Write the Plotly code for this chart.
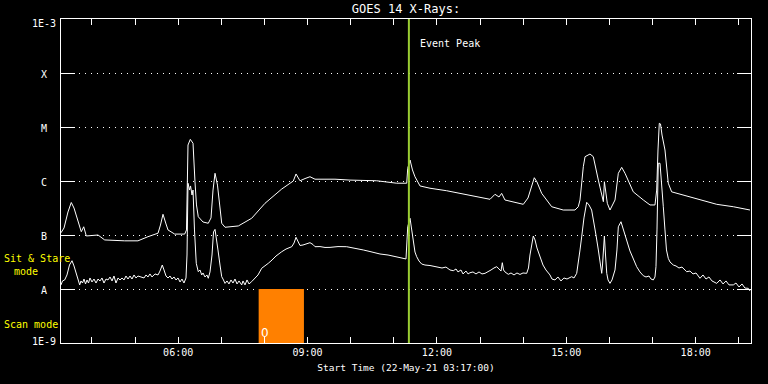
import math
import plotly.graph_objects as go
from datetime import datetime, timedelta

# ---------------- data ----------------
start_time = datetime(2021, 5, 22, 3, 17)
span_hours = 16

# GOES 14 long channel (upper curve): minutes after start, flux W/m^2
long_minutes = [0, 4.2, 9.7, 14.3, 18.1, 23.7, 28.2, 31.6, 35.2, 51.5, 60.8, 88.6, 107.1, 121.0,
                135.0, 138.4, 141.9, 146.1, 148.9, 158.2, 172.1, 174.6, 176.7, 179.9, 183.7, 186.4,
                188.5, 191.0, 197.6, 204.9, 208.7, 211.5, 214.3, 217.7, 223.6, 228.2, 246.7, 265.3,
                283.8, 307.1, 323.2, 327.0, 332.5, 339.5, 346.4, 353.4, 381.2, 402.1, 439.2, 467.1,
                481.0, 482.4, 485.6, 489.0, 492.5, 499.5, 513.4, 536.6, 569.0, 596.9, 603.8, 609.4,
                613.1, 617.7, 643.2, 649.7, 658.5, 662.2, 668.8, 682.7, 698.8, 715.1, 719.7, 722.1,
                726.7, 729.1, 736.0, 740.6, 747.6, 752.1, 754.6, 756.0, 757.6, 760.1, 763.8, 770.8,
                775.4, 780.1, 784.7, 796.2, 810.2, 819.5, 826.4, 828.8, 830.6, 832.4, 834.1, 836.2,
                840.3, 844.9, 849.6, 870.5, 889.0, 912.3, 935.4, 958.6]
long_flux = [1.1e-7, 1.35e-7, 2.67e-7, 4.0e-7, 3.16e-7, 1.9e-7, 1.15e-7, 1.42e-7, 9.6e-8, 1.0e-7,
             8.1e-8, 7.8e-8, 7.8e-8, 9.3e-8, 1.08e-7, 1.53e-7, 2.42e-7, 1.6e-7, 1.24e-7, 1.04e-7,
             1.04e-7, 1.24e-7, 4.64e-6, 5.9e-6, 5.0e-6, 9.7e-7, 3.6e-7, 2.18e-7, 1.74e-7, 1.65e-7,
             2.07e-7, 6.8e-7, 1.39e-6, 8.4e-7, 1.65e-7, 1.39e-7, 1.47e-7, 2.04e-7, 3.86e-7, 7.1e-7,
             1.0e-6, 1.35e-6, 1.01e-6, 1.11e-6, 1.2e-6, 1.08e-6, 1.08e-6, 1.04e-6, 1.01e-6, 9.1e-7,
             9.1e-7, 1.72e-6, 2.45e-6, 1.6e-6, 1.2e-6, 8.1e-7, 7.35e-7, 6.6e-7, 5.44e-7, 4.58e-7,
             5.67e-7, 5.06e-7, 5.9e-7, 4.45e-7, 3.7e-7, 4.84e-7, 1.15e-6, 9.6e-7, 5.9e-7, 3.34e-7,
             2.9e-7, 2.9e-7, 3.34e-7, 4.45e-7, 1.84e-6, 2.82e-6, 3.16e-6, 2.82e-6, 1.04e-6, 5.5e-7,
             4.14e-7, 9.7e-7, 6.8e-7, 3.86e-7, 2.9e-7, 4.45e-7, 1.39e-6, 1.79e-6, 1.39e-6, 6.3e-7,
             4.45e-7, 3.6e-7, 3.6e-7, 6.8e-7, 3.75e-6, 1.17e-5, 1.14e-5, 7.1e-6, 3.75e-6, 9.1e-7,
             6.3e-7, 5.28e-7, 4.45e-7, 3.7e-7, 3.34e-7, 2.9e-7]

# GOES 14 short channel (lower curve): minutes after start, flux W/m^2
short_minutes = [0, 2.1, 5.1, 8.3, 11.8, 15.3, 18.1, 21.3, 23.7, 26.0, 27.8, 29.9, 32.0, 34.1, 36.2,
                 38.3, 40.3, 43.1, 45.9, 48.7, 51.5, 54.3, 57.0, 59.8, 62.6, 65.4, 68.2, 71.0, 73.7,
                 76.5, 79.3, 82.1, 84.9, 87.7, 90.4, 93.2, 96.0, 98.8, 101.6, 104.3, 107.1, 111.3,
                 115.5, 118.3, 121.0, 123.8, 126.6, 130.8, 135.0, 137.7, 140.9, 143.3, 146.1, 148.9,
                 151.7, 154.4, 157.2, 160.0, 162.8, 165.6, 168.3, 171.1, 173.9, 175.3, 176.7, 178.8,
                 180.2, 182.3, 183.7, 185.7, 188.2, 191.0, 193.4, 195.8, 197.6, 200.3, 203.1, 204.9,
                 207.3, 210.1, 212.2, 214.3, 216.4, 218.4, 221.2, 223.6, 225.4, 228.2, 231.0, 233.7,
                 236.5, 239.3, 242.1, 244.9, 247.7, 251.4, 253.2, 256.0, 258.8, 261.6, 265.3, 268.5,
                 271.3, 274.1, 279.2, 283.8, 288.4, 293.6, 299.1, 307.1, 313.1, 321.0, 324.2, 327.0,
                 329.7, 332.5, 336.7, 340.9, 346.4, 350.6, 353.4, 360.3, 367.3, 374.3, 385.4, 397.5,
                 409.1, 420.6, 429.9, 443.8, 455.0, 467.1, 474.4, 480.0, 481.4, 482.4, 485.6, 487.7,
                 490.2, 492.5, 494.9, 498.1, 501.8, 506.4, 513.4, 522.7, 530.1, 535.6, 541.2, 545.8,
                 549.6, 552.3, 556.5, 559.3, 563.5, 566.3, 569.0, 573.2, 577.4, 581.6, 585.7, 589.9,
                 594.1, 598.3, 602.4, 606.2, 609.4, 612.2, 614.0, 615.7, 617.7, 622.3, 626.1, 630.3,
                 634.4, 638.6, 642.8, 647.9, 650.4, 652.5, 657.1, 659.5, 662.2, 666.4, 670.6, 674.7,
                 680.3, 683.1, 687.3, 691.4, 695.6, 699.8, 704.0, 710.5, 713.7, 717.5, 720.0, 722.1,
                 724.4, 727.6, 731.4, 734.6, 738.3, 741.5, 744.3, 747.6, 749.9, 752.3, 753.4, 754.6,
                 756.0, 757.6, 759.3, 761.1, 763.8, 766.6, 770.8, 773.5, 775.4, 779.1, 781.9, 787.0,
                 791.6, 795.8, 800.9, 805.5, 810.2, 813.9, 818.1, 820.9, 824.1, 826.4, 827.8, 829.2,
                 831.0, 833.4, 834.8, 836.2, 838.0, 840.3, 842.4, 844.9, 847.3, 851.9, 855.7, 859.8,
                 864.0, 870.5, 875.1, 879.3, 883.5, 889.0, 893.2, 897.4, 901.5, 905.7, 912.3, 916.9,
                 921.1, 925.2, 929.4, 935.4, 939.1, 943.3, 947.5, 951.6, 956.2, 958.6]
short_flux = [1.19e-8, 1.41e-8, 1.47e-8, 1.82e-8, 2.78e-8, 3.34e-8, 2.67e-8, 1.95e-8, 1.47e-8, 1.19e-8,
              1.41e-8, 1.29e-8, 1.53e-8, 1.24e-8, 1.47e-8, 1.29e-8, 1.6e-8, 1.35e-8, 1.53e-8, 1.29e-8,
              1.53e-8, 1.41e-8, 1.6e-8, 1.29e-8, 1.53e-8, 1.47e-8, 1.67e-8, 1.41e-8, 1.74e-8, 1.29e-8,
              1.6e-8, 1.47e-8, 1.6e-8, 1.47e-8, 1.74e-8, 1.53e-8, 1.74e-8, 1.53e-8, 1.82e-8, 1.6e-8,
              1.74e-8, 1.67e-8, 1.6e-8, 1.82e-8, 1.67e-8, 1.9e-8, 1.67e-8, 1.9e-8, 1.82e-8, 2.15e-8,
              2.78e-8, 2.25e-8, 1.74e-8, 1.6e-8, 1.74e-8, 1.53e-8, 1.67e-8, 1.47e-8, 1.6e-8, 1.35e-8,
              1.53e-8, 1.29e-8, 1.6e-8, 4.26e-8, 9.1e-7, 6.8e-7, 8.1e-7, 5.5e-7, 6.8e-7, 1.24e-7,
              2.99e-8, 2.09e-8, 2.25e-8, 1.82e-8, 1.98e-8, 1.67e-8, 1.82e-8, 1.58e-8, 2.07e-8, 4.26e-8,
              1.14e-7, 1.27e-7, 8.8e-8, 5.28e-8, 2.78e-8, 1.69e-8, 1.53e-8, 1.27e-8, 1.41e-8, 1.24e-8,
              1.47e-8, 1.29e-8, 1.53e-8, 1.24e-8, 1.41e-8, 1.19e-8, 1.41e-8, 1.19e-8, 1.47e-8, 1.24e-8,
              1.37e-8, 1.53e-8, 1.67e-8, 1.82e-8, 2.42e-8, 2.67e-8, 2.99e-8, 3.44e-8, 4.08e-8, 4.9e-8,
              5.5e-8, 6.07e-8, 7.1e-8, 9.06e-8, 7.42e-8, 6.4e-8, 6.53e-8, 6.81e-8, 7.2e-8, 6.67e-8,
              6.07e-8, 6.1e-8, 5.88e-8, 5.9e-8, 6.1e-8, 6.07e-8, 5.75e-8, 5.28e-8, 4.94e-8, 4.45e-8,
              4.26e-8, 3.96e-8, 3.75e-8, 3.6e-8, 8.1e-8, 1.42e-7, 2.04e-7, 1.24e-7, 7.0e-8, 4.84e-8,
              3.96e-8, 3.3e-8, 2.9e-8, 2.78e-8, 2.72e-8, 2.59e-8, 2.45e-8, 2.55e-8, 2.25e-8, 2.18e-8,
              2.35e-8, 2.07e-8, 2.25e-8, 1.9e-8, 2.15e-8, 1.9e-8, 2.0e-8, 2.07e-8, 1.9e-8, 2.07e-8,
              1.9e-8, 1.95e-8, 2.07e-8, 2.25e-8, 2.45e-8, 2.59e-8, 2.35e-8, 2.15e-8, 3.07e-8, 2.25e-8,
              2.07e-8, 1.87e-8, 1.98e-8, 1.82e-8, 1.98e-8, 1.86e-8, 1.98e-8, 1.95e-8, 2.45e-8, 4.26e-8,
              9.58e-8, 8.1e-8, 5.75e-8, 3.96e-8, 2.78e-8, 2.25e-8, 1.82e-8, 1.53e-8, 1.47e-8, 1.67e-8,
              1.41e-8, 1.6e-8, 1.53e-8, 1.69e-8, 1.6e-8, 1.95e-8, 3.16e-8, 5.28e-8, 9.2e-8, 2.07e-7,
              4.03e-7, 3.6e-7, 2.9e-7, 1.74e-7, 1.0e-7, 5.28e-8, 3.16e-8, 1.95e-8, 2.78e-8, 5.28e-8,
              9.58e-8, 4.26e-8, 1.95e-8, 1.47e-8, 1.27e-8, 1.47e-8, 2.25e-8, 5.28e-8, 1.42e-7, 1.76e-7,
              1.35e-7, 7.5e-8, 5.06e-8, 3.75e-8, 2.59e-8, 2.07e-8, 1.76e-8, 1.67e-8, 1.74e-8, 1.53e-8,
              1.47e-8, 1.67e-8, 2.59e-8, 1.24e-7, 2.13e-6, 2.13e-6, 1.29e-6, 8.4e-7, 3.34e-7, 1.24e-7,
              5.28e-8, 3.7e-8, 3.16e-8, 2.78e-8, 2.67e-8, 2.45e-8, 2.55e-8, 2.09e-8, 2.15e-8, 1.9e-8,
              1.98e-8, 1.58e-8, 1.82e-8, 1.53e-8, 1.67e-8, 1.41e-8, 1.27e-8, 1.47e-8, 1.24e-8, 1.41e-8,
              1.19e-8, 1.19e-8, 1.29e-8, 1.09e-8, 1.24e-8, 1.04e-8, 1.03e-8, 9.2e-9]

event_peak_time = datetime(2021, 5, 22, 11, 21)
scan_start_time = datetime(2021, 5, 22, 7, 52)
scan_end_time = datetime(2021, 5, 22, 8, 55)
scan_mode_flux = [1e-9, 1e-8]

level_values = [1e-9, 1e-8, 1e-7, 1e-6, 1e-5, 1e-4, 1e-3]
level_labels = ["1E-9", "A", "B", "C", "M", "X", "1E-3"]

hour_ticks = [datetime(2021, 5, 22, h) for h in range(4, 20)]
hour_labels = ["", "", "06:00", "", "", "09:00", "", "", "12:00", "", "", "15:00", "", "", "18:00", ""]

title_text = "GOES 14 X-Rays:"
xlabel_text = "Start Time (22-May-21 03:17:00)"

# ---------------- figure ----------------
FONT = "DejaVu Sans Mono"
WHITE = "#ffffff"
YELLOW = "#ffff00"

long_t = [start_time + timedelta(minutes=m) for m in long_minutes]
short_t = [start_time + timedelta(minutes=m) for m in short_minutes]
end_time = start_time + timedelta(hours=span_hours)

fig = go.Figure()

# scan mode block
fig.add_trace(go.Scatter(
    x=[scan_start_time, scan_start_time, scan_end_time, scan_end_time],
    y=[scan_mode_flux[0], scan_mode_flux[1], scan_mode_flux[1], scan_mode_flux[0]],
    fill="toself", fillcolor="#ff8000", line=dict(width=0, color="#ff8000"),
    mode="lines", hoverinfo="skip", showlegend=False))

fig.add_trace(go.Scatter(x=long_t, y=long_flux, mode="lines",
                         line=dict(color=WHITE, width=1), showlegend=False))
fig.add_trace(go.Scatter(x=short_t, y=short_flux, mode="lines",
                         line=dict(color=WHITE, width=1), showlegend=False))

# event peak line
fig.add_trace(go.Scatter(x=[event_peak_time, event_peak_time], y=[level_values[0], level_values[-1]],
                         mode="lines", line=dict(color="#9acd32", width=2), showlegend=False))

annotations = []
# y level labels (centered)
for v, lab in zip(level_values, level_labels):
    ys = -1
    if lab == "1E-3":
        ys = -4
    elif lab == "1E-9":
        ys = 2
    annotations.append(dict(x=(44 - 61) / 690, xref="paper", y=math.log10(v), yref="y",
                            text=lab, showarrow=False, xanchor="center", yanchor="middle",
                            yshift=ys, font=dict(family=FONT, size=10, color=WHITE)))

annotations.append(dict(x=event_peak_time, xref="x", y=0.925, yref="paper", text="Event Peak",
                        showarrow=False, xanchor="left", yanchor="middle", xshift=9,
                        font=dict(family=FONT, size=10, color=WHITE)))
annotations.append(dict(x=(2 - 61) / 690, xref="paper", y=(343 - 258) / 324, yref="paper",
                        text="Sit & Stare", showarrow=False, xanchor="left", yanchor="middle",
                        font=dict(family=FONT, size=10, color=YELLOW)))
annotations.append(dict(x=(12 - 61) / 690, xref="paper", y=(343 - 271) / 324, yref="paper",
                        text="mode", showarrow=False, xanchor="left", yanchor="middle",
                        font=dict(family=FONT, size=10, color=YELLOW)))
annotations.append(dict(x=(2 - 61) / 690, xref="paper", y=(343 - 324) / 324, yref="paper",
                        text="Scan mode", showarrow=False, xanchor="left", yanchor="middle",
                        font=dict(family=FONT, size=10, color=YELLOW)))
annotations.append(dict(x=scan_start_time, xref="x", y=(343 - 333) / 324, yref="paper",
                        text="0", showarrow=False, xanchor="left", yanchor="middle", xshift=0,
                        font=dict(family="DejaVu Sans", size=12, color=WHITE)))

fig.update_layout(
    width=768, height=384,
    margin=dict(l=61, r=17, t=19, b=41),
    paper_bgcolor="black", plot_bgcolor="black",
    title=dict(text=title_text, x=0.5, xref="paper", xanchor="center", y=1 - 9 / 384,
               yanchor="middle", font=dict(family=FONT, size=12, color=WHITE)),
    annotations=annotations,
    showlegend=False,
)

fig.update_xaxes(
    type="date", range=[start_time, end_time],
    tickvals=hour_ticks, ticktext=hour_labels,
    ticks="inside", ticklen=6, tickcolor=WHITE, tickwidth=1,
    showline=True, linecolor=WHITE, linewidth=1, mirror="ticks",
    showgrid=False, zeroline=False,
    tickfont=dict(family=FONT, size=10, color=WHITE),
    title=dict(text=xlabel_text, standoff=7, font=dict(family=FONT, size=9.5, color=WHITE)),
)
fig.update_yaxes(
    type="log", range=[-9, -3],
    tickvals=level_values, ticktext=level_labels, showticklabels=False,
    ticks="inside", ticklen=14, tickcolor=WHITE, tickwidth=1,
    showline=True, linecolor=WHITE, linewidth=1, mirror="ticks",
    showgrid=True, gridcolor=WHITE, gridwidth=1, griddash="1px,5px",
    zeroline=False,
)

fig.write_html("out.html", config={"displayModeBar": False},
               post_script="document.body.style.margin='0px';document.body.style.background='black';")
